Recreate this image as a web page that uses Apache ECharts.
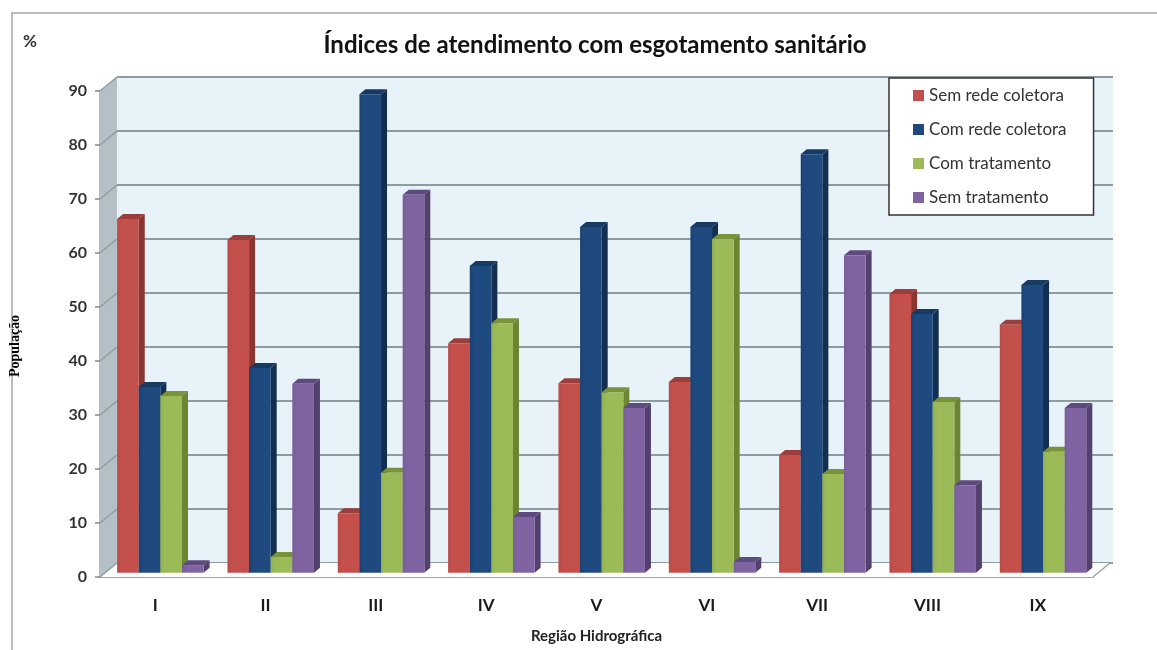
<!DOCTYPE html>
<html>
<head>
<meta charset="utf-8">
<title>Índices de atendimento com esgotamento sanitário</title>
<script src="https://cdn.jsdelivr.net/npm/echarts@6/dist/echarts.min.js"></script>
<style>
html, body { margin: 0; padding: 0; background: #fff; }
#main { width: 1157px; height: 650px; }
</style>
</head>
<body>
<div id="main"></div>
<script>
const regions = ['I', 'II', 'III', 'IV', 'V', 'VI', 'VII', 'VIII', 'IX'];
const semRede = [65.5, 61.6, 11, 42.5, 35.1, 35.3, 21.8, 51.6, 45.9];
const comRede = [34.4, 37.9, 88.6, 56.8, 64, 64, 77.5, 47.9, 53.3];
const comTrat = [32.7, 2.9, 18.5, 46.2, 33.4, 61.8, 18.3, 31.6, 22.4];
const semTrat = [1.4, 35, 70, 10.3, 30.5, 2, 58.8, 16.2, 30.5];
const yTicks = [0, 10, 20, 30, 40, 50, 60, 70, 80, 90];

// depth of the fake 3d box, front plane -> back wall
const DEPTH_X = 17, DEPTH_Y = 14;
// bars sit a bit behind the front plane
const BAR_OFF_X = 5.2, BAR_OFF_Y = 4.3, BAR_DX = 6, BAR_DY = 5;

var dom = document.getElementById('main');
var myChart = echarts.init(dom, null, { renderer: 'canvas' });

function renderWalls(params, api) {
    var c = params.coordSys;
    var x0 = c.x, x1 = c.x + c.width, y0 = c.y + c.height, yTop = c.y;
    var kids = [
        // side wall
        { type: 'polygon', shape: { points: [[x0, yTop], [x0 + DEPTH_X, yTop - DEPTH_Y], [x0 + DEPTH_X, y0 - DEPTH_Y], [x0, y0]] },
          style: { fill: '#b5c0c6' } },
        // floor
        { type: 'polygon', shape: { points: [[x0, y0], [x0 + DEPTH_X, y0 - DEPTH_Y], [x1 + DEPTH_X, y0 - DEPTH_Y], [x1, y0]] },
          style: { fill: '#ffffff' } },
        { type: 'line', shape: { x1: x1, y1: y0, x2: x1 + DEPTH_X, y2: y0 - DEPTH_Y }, style: { stroke: '#9aa4a8', lineWidth: 1.5 } }
    ];
    yTicks.forEach(function (t) {
        var p = api.coord([0, t]);
        kids.push({ type: 'line', shape: { x1: x0, y1: p[1], x2: x0 + DEPTH_X, y2: p[1] - DEPTH_Y },
            style: { stroke: '#8e9ca2', lineWidth: 1.5 } });
    });
    return { type: 'group', children: kids };
}

function makeBarRender(seriesIndex, front, side, top) {
    return function (params, api) {
        var idx = api.value(0);
        var p = api.coord([idx, api.value(1)]);
        var base = api.coord([idx, 0]);
        var band = api.size([1, 0])[0];
        var w = band * 0.196;
        var x = p[0] + BAR_OFF_X + (seriesIndex - 2) * w;
        var yT = p[1] - BAR_OFF_Y, yB = base[1] - BAR_OFF_Y;
        return {
            type: 'group',
            children: [
                { type: 'polygon', shape: { points: [[x + w, yT], [x + w + BAR_DX, yT - BAR_DY], [x + w + BAR_DX, yB - BAR_DY], [x + w, yB]] },
                  style: { fill: side } },
                { type: 'polygon', shape: { points: [[x, yT], [x + BAR_DX, yT - BAR_DY], [x + w + BAR_DX, yT - BAR_DY], [x + w, yT]] },
                  style: { fill: top } },
                { type: 'rect', shape: { x: x, y: yT, width: w, height: yB - yT },
                  style: { fill: new echarts.graphic.LinearGradient(0, 0, 1, 0, [
                      { offset: 0, color: front[0] }, { offset: 0.2, color: front[1] }, { offset: 1, color: front[1] }]) } }
            ]
        };
    };
}

function barSeries(name, values, i, legendColor, front, side, top) {
    return {
        name: name,
        type: 'custom',
        xAxisIndex: 0,
        yAxisIndex: 0,
        z: 5,
        itemStyle: { color: legendColor },
        encode: { x: 0, y: 1 },
        data: values.map(function (v, k) { return [k, v]; }),
        renderItem: makeBarRender(i, front, side, top)
    };
}

var option = {
    backgroundColor: '#ffffff',
    animation: false,
    title: {
        text: 'Índices de atendimento com esgotamento sanitário',
        left: 590,
        top: 28,
        textAlign: 'center',
        textStyle: { fontFamily: 'Lato', fontWeight: 'bold', fontSize: 24, color: '#111' }
    },
    legend: {
        orient: 'vertical',
        left: 889,
        top: 78,
        z: 20,
        padding: [9, 27, 9, 24],
        itemWidth: 11,
        itemHeight: 11,
        itemGap: 17,
        icon: 'rect',
        backgroundColor: '#ffffff',
        borderColor: '#333',
        borderWidth: 1.5,
        textStyle: { fontFamily: 'Lato', fontSize: 17, color: '#333' },
        data: ['Sem rede coletora', 'Com rede coletora', 'Com tratamento', 'Sem tratamento']
    },
    grid: [
        { left: 100, right: 64, top: 91, bottom: 73 },
        { left: 117, right: 44, top: 77, bottom: 87, show: true, backgroundColor: '#e7f3f9', borderWidth: 0 }
    ],
    xAxis: [
        {
            type: 'category',
            gridIndex: 0,
            data: regions,
            name: 'Região Hidrográfica',
            nameLocation: 'middle',
            nameGap: 52,
            nameTextStyle: { fontFamily: 'Lato', fontWeight: 'bold', fontSize: 15, color: '#222' },
            axisLine: { lineStyle: { color: '#9aa4a8', width: 2 } },
            axisTick: { length: 8, lineStyle: { color: '#888', width: 1.5 } },
            axisLabel: { margin: 20, fontFamily: 'Lato', fontWeight: 'bold', fontSize: 17, color: '#1a1a1a' }
        },
        {
            type: 'category',
            gridIndex: 1,
            data: regions,
            axisLine: { show: false },
            axisTick: { show: false },
            axisLabel: { show: false }
        }
    ],
    yAxis: [
        {
            type: 'value',
            gridIndex: 0,
            min: 0,
            max: 90,
            interval: 10,
            splitLine: { show: false },
            axisLine: { show: true, lineStyle: { color: '#9aa4a8', width: 1.5 } },
            axisTick: { show: true, length: 5, lineStyle: { color: '#888', width: 1.5 } },
            axisLabel: { margin: 13, fontFamily: 'Lato', fontWeight: 'bold', fontSize: 16, color: '#333' }
        },
        {
            type: 'value',
            gridIndex: 1,
            min: 0,
            max: 90,
            interval: 10,
            axisLine: { show: false },
            axisTick: { show: false },
            axisLabel: { show: false },
            splitLine: { show: true, lineStyle: { color: '#8e9ca2', width: 2 } }
        }
    ],
    graphic: [
        // outer frame of the pasted picture
        { type: 'polyline', z: 30, silent: true, shape: { points: [[12, 650], [12, 13], [1157, 13]] },
          style: { stroke: '#a6a6a6', lineWidth: 1.5, fill: 'none' } },
        { type: 'text', z: 30, left: 23, top: 33, style: { text: '%', fontFamily: 'Lato', fontWeight: 'bold', fontSize: 17, fill: '#333' } },
        { type: 'text', z: 30, x: 15, y: 346, rotation: Math.PI / 2,
          style: { text: 'População', align: 'center', verticalAlign: 'middle', fontFamily: 'Liberation Serif', fontWeight: 'bold', fontSize: 14, fill: '#000' } }
    ],
    series: [
        { type: 'custom', xAxisIndex: 0, yAxisIndex: 0, z: 1, silent: true, data: [[0, 0]], renderItem: renderWalls },
        barSeries('Sem rede coletora', semRede, 0, '#c0504d', ['#b84a47', '#c4504c'], '#8a3532', '#9c3f3c'),
        barSeries('Com rede coletora', comRede, 1, '#1f497d', ['#1b4170', '#1f4a80'], '#132f50', '#173a63'),
        barSeries('Com tratamento', comTrat, 2, '#9bbb59', ['#92b052', '#9bbb59'], '#6b8532', '#77943a'),
        barSeries('Sem tratamento', semTrat, 3, '#8064a2', ['#775d97', '#8064a2'], '#54406f', '#5f4a80')
    ]
};

myChart.setOption(option);
window.addEventListener('resize', myChart.resize);
</script>
</body>
</html>
